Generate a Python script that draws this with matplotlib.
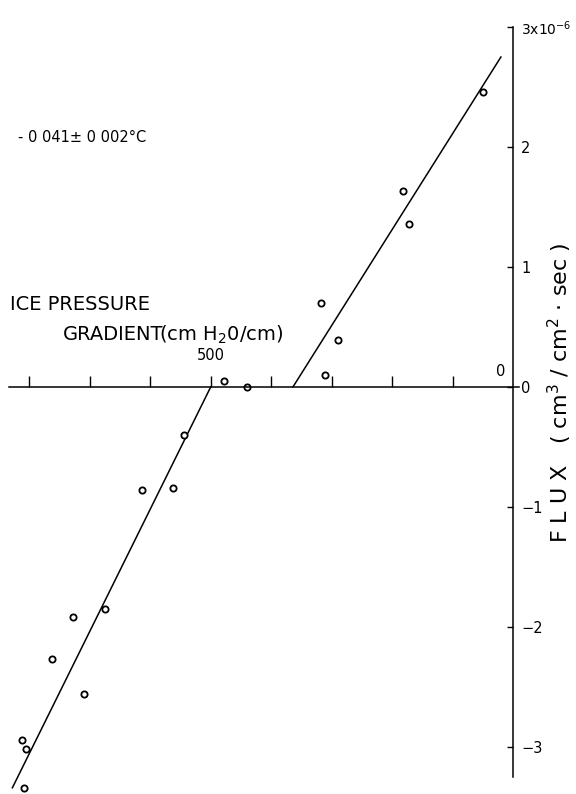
import numpy as np
import matplotlib
matplotlib.use('Agg')
import matplotlib.pyplot as plt

# ice pressure gradient (cm H2O/cm), flux (x10^-6 cm3/cm2 sec)
grad = [49, 182, 172, 318, 289, 311, 478, 440,
        544, 613, 562, 675, 728, 763, 710, 812, 805, 809]
flux = [2.46, 1.63, 1.36, 0.70, 0.39, 0.10, 0.05, 0.0,
        -0.40, -0.86, -0.84, -1.85, -1.92, -2.27, -2.56, -2.94, -3.02, -3.34]

# fitted lines (end points)
up_x = [364, 20]
up_y = [0.0, 2.75]
low_x = [500, 828]
low_y = [0.0, -3.34]

yticks = [-3, -2, -1, 0, 1, 2, 3]
ylabels = ['\u22123', '\u22122', '\u22121', '0', '1', '2', '3x10$^{\\mathregular{-6}}$']
xticks = [100, 200, 300, 400, 500, 600, 700, 800]

fig = plt.figure(figsize=(5.76, 7.94), dpi=100)
ax = fig.add_axes([0, 0, 1, 1])
ax.set_xlim(848.5, -104.2)
ax.set_ylim(-3.392, 3.225)

ax.plot(up_x, up_y, 'k-', lw=1.1)
ax.plot(low_x, low_y, 'k-', lw=1.1)
ax.plot(grad, flux, 'o', mfc='white', mec='k', ms=4.5, mew=1.3)

for s in ['left', 'top']:
    ax.spines[s].set_visible(False)
ax.spines['bottom'].set_position(('data', 0))
ax.spines['bottom'].set_bounds(-10, 833)
ax.spines['right'].set_position(('data', 0))
ax.spines['right'].set_bounds(-3.25, 3.0)
for s in ['bottom', 'right']:
    ax.spines[s].set_linewidth(1.1)

ax.xaxis.set_ticks_position('bottom')
ax.set_xticks(xticks)
ax.tick_params(axis='x', direction='in', length=8, width=1, labelbottom=False)
ax.yaxis.set_ticks_position('right')
ax.set_yticks(yticks)
ax.set_yticklabels(ylabels)
ax.tick_params(axis='y', direction='in', length=4, width=1, pad=6, labelsize=10.5)
ax.get_yticklabels()[-1].set_fontsize(10)

ax.text(500, 0.26, '500', ha='center', va='center', fontsize=10.5)
ax.text(20, 0.125, '0', ha='center', va='center', fontsize=10.5)

fig.text(10/576, 1-305/794, 'ICE PRESSURE', ha='left', va='center', fontsize=14)
t2 = fig.text(63/576, 1-335/794, 'GRADIENT', ha='left', va='center', fontsize=14)
ax.annotate('(cm H$_2$0/cm)', xy=(1, 0.5), xycoords=t2, xytext=(-3, 0),
            textcoords='offset points', ha='left', va='center', fontsize=14)

fig.text(0.972, 0.505, 'F L U X   ( cm$^3$ / cm$^2$ \u00b7 sec )', rotation=90,
         ha='center', va='center', fontsize=16)
fig.text(18/576, 1-138/794, '- 0 041\u00b1 0 002\u00b0C', ha='left', va='center', fontsize=10.5)

fig.savefig('out.png', dpi=100)
